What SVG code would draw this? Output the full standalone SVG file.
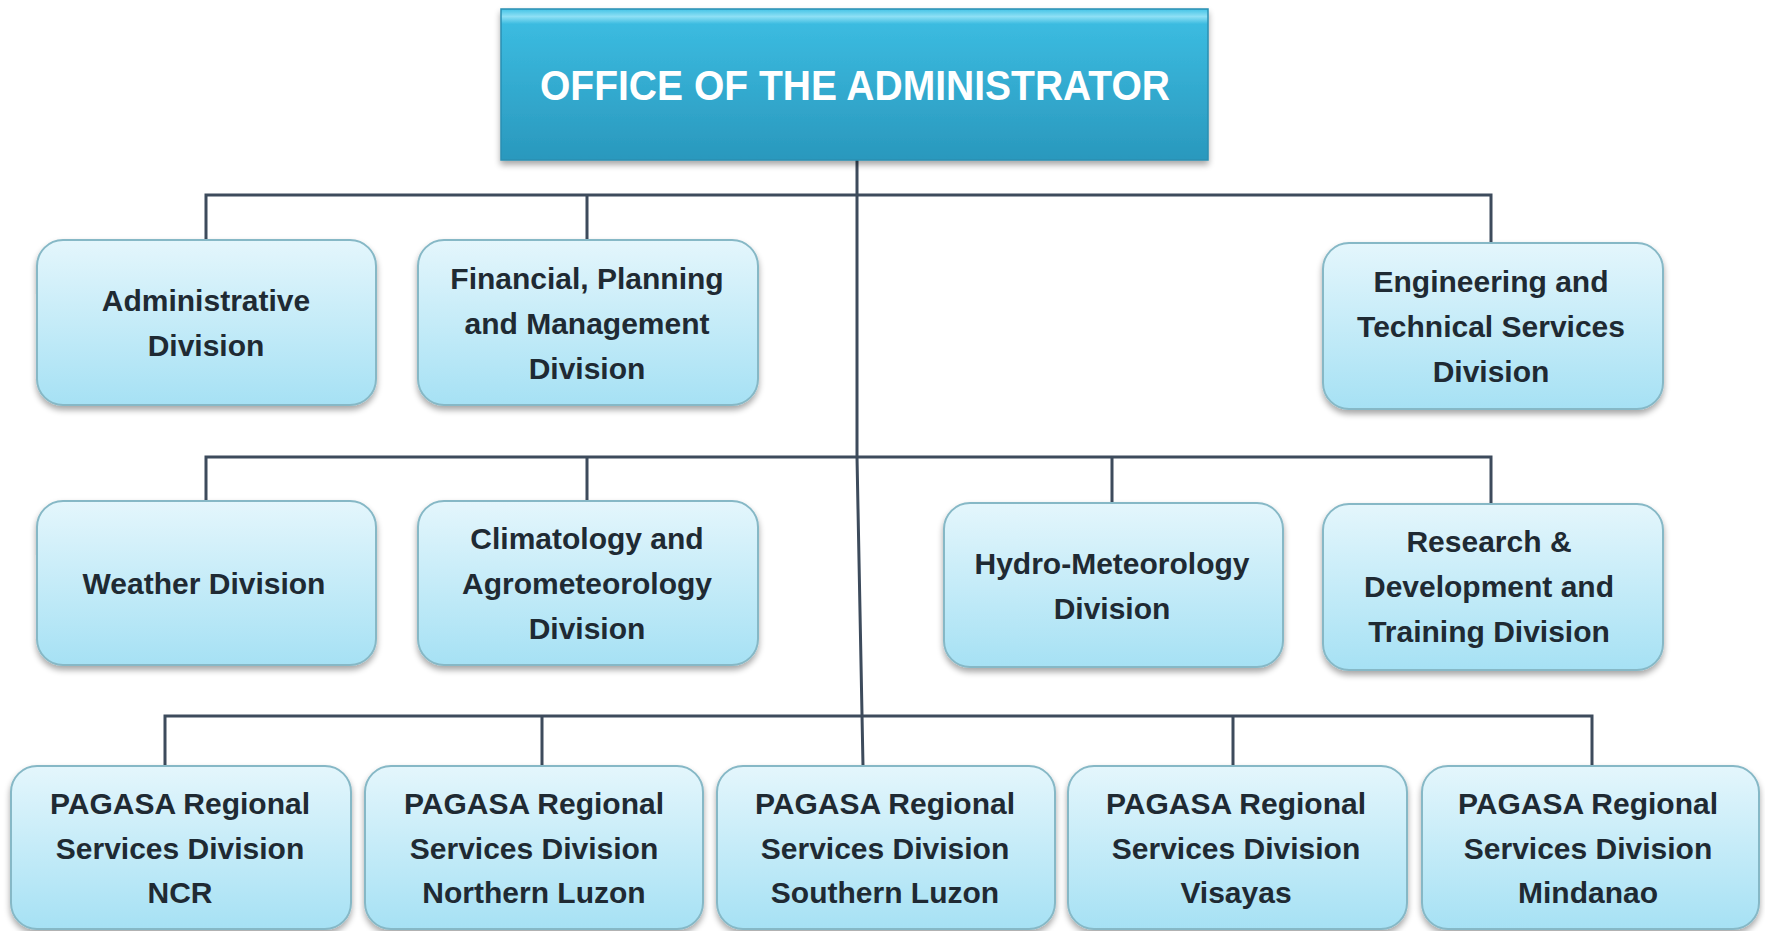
<svg xmlns="http://www.w3.org/2000/svg" width="1765" height="931" viewBox="0 0 1765 931">
<defs>
<linearGradient id="gBox" x1="0" y1="0" x2="0" y2="1">
<stop offset="0" stop-color="#e4f6fc"/>
<stop offset="1" stop-color="#a6e1f4"/>
</linearGradient>
<linearGradient id="gTop" x1="0" y1="0" x2="0" y2="1">
<stop offset="0" stop-color="#43c3e6"/>
<stop offset="0.05" stop-color="#8ee0f5"/>
<stop offset="0.1" stop-color="#3bbbe0"/>
<stop offset="1" stop-color="#2a98bd"/>
</linearGradient>
<filter id="sh" x="-10%" y="-10%" width="120%" height="130%">
<feGaussianBlur in="SourceAlpha" stdDeviation="3"/>
<feOffset dx="0" dy="4" result="b"/>
<feComponentTransfer><feFuncA type="linear" slope="0.35"/></feComponentTransfer>
<feMerge><feMergeNode/><feMergeNode in="SourceGraphic"/></feMerge>
</filter>
</defs>
<style>
.box{fill:url(#gBox);stroke:#86b8c6;stroke-width:2;filter:url(#sh)}
.t{font-family:"Liberation Sans",Arial,sans-serif;font-weight:bold;font-size:30px;fill:#1f2a33;text-anchor:middle}
.c{fill:none;stroke:#3d4b5c;stroke-width:3}
</style>
<rect width="1765" height="931" fill="#ffffff"/>
<g id="connectors">
<path class="c" d="M857 160 V457 L863 766"/>
<path class="c" d="M206 240 V195 H1491 V243 M587 195 V240"/>
<path class="c" d="M206 501 V457 H1491 V504 M587 457 V501 M1112 457 V503"/>
<path class="c" d="M165 766 V716 H1592 V766 M542 716 V766 M1233 716 V766"/>
</g>
<g id="office">
<rect x="501" y="9" width="707" height="151" fill="url(#gTop)" stroke="#2a8fb2" stroke-width="1.5" filter="url(#sh)"/>
<text x="855" y="100" font-family="Liberation Sans,Arial,sans-serif" font-weight="bold" font-size="42" fill="#ffffff" text-anchor="middle" textLength="630" lengthAdjust="spacingAndGlyphs">OFFICE OF THE ADMINISTRATOR</text>
</g>
<g id="admin">
<rect class="box" x="37" y="240" width="339" height="165" rx="26"/>
<text class="t" x="206" y="311">Administrative</text>
<text class="t" x="206" y="356">Division</text>
</g>
<g id="financial">
<rect class="box" x="418" y="240" width="340" height="165" rx="26"/>
<text class="t" x="587" y="289">Financial, Planning</text>
<text class="t" x="587" y="334">and Management</text>
<text class="t" x="587" y="379">Division</text>
</g>
<g id="engineering">
<rect class="box" x="1323" y="243" width="340" height="166" rx="26"/>
<text class="t" x="1491" y="292">Engineering and</text>
<text class="t" x="1491" y="337">Technical Services</text>
<text class="t" x="1491" y="382">Division</text>
</g>
<g id="weather">
<rect class="box" x="37" y="501" width="339" height="164" rx="26"/>
<text class="t" x="204" y="594">Weather Division</text>
</g>
<g id="climatology">
<rect class="box" x="418" y="501" width="340" height="164" rx="26"/>
<text class="t" x="587" y="549">Climatology and</text>
<text class="t" x="587" y="594">Agrometeorology</text>
<text class="t" x="587" y="639">Division</text>
</g>
<g id="hydro">
<rect class="box" x="944" y="503" width="339" height="164" rx="26"/>
<text class="t" x="1112" y="574">Hydro-Meteorology</text>
<text class="t" x="1112" y="619">Division</text>
</g>
<g id="research">
<rect class="box" x="1323" y="504" width="340" height="166" rx="26"/>
<text class="t" x="1489" y="552">Research &amp;</text>
<text class="t" x="1489" y="597">Development and</text>
<text class="t" x="1489" y="642">Training Division</text>
</g>
<g id="ncr">
<rect class="box" x="11" y="766" width="340" height="163" rx="26"/>
<text class="t" x="180" y="814">PAGASA Regional</text>
<text class="t" x="180" y="859">Services Division</text>
<text class="t" x="180" y="903">NCR</text>
</g>
<g id="northern">
<rect class="box" x="365" y="766" width="338" height="163" rx="26"/>
<text class="t" x="534" y="814">PAGASA Regional</text>
<text class="t" x="534" y="859">Services Division</text>
<text class="t" x="534" y="903">Northern Luzon</text>
</g>
<g id="southern">
<rect class="box" x="717" y="766" width="338" height="163" rx="26"/>
<text class="t" x="885" y="814">PAGASA Regional</text>
<text class="t" x="885" y="859">Services Division</text>
<text class="t" x="885" y="903">Southern Luzon</text>
</g>
<g id="visayas">
<rect class="box" x="1068" y="766" width="339" height="163" rx="26"/>
<text class="t" x="1236" y="814">PAGASA Regional</text>
<text class="t" x="1236" y="859">Services Division</text>
<text class="t" x="1236" y="903">Visayas</text>
</g>
<g id="mindanao">
<rect class="box" x="1422" y="766" width="337" height="163" rx="26"/>
<text class="t" x="1588" y="814">PAGASA Regional</text>
<text class="t" x="1588" y="859">Services Division</text>
<text class="t" x="1588" y="903">Mindanao</text>
</g>
</svg>
